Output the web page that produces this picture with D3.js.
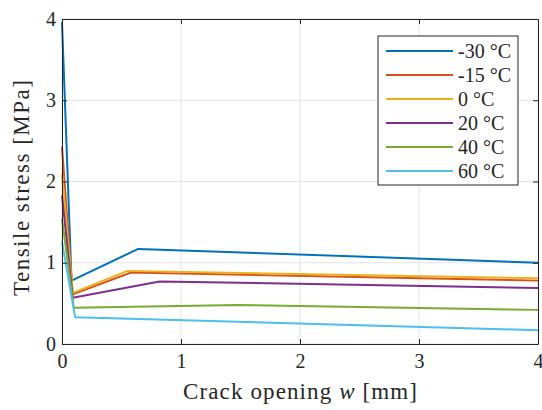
<!DOCTYPE html>
<html>
<head>
<meta charset="utf-8">
<script src="https://cdn.jsdelivr.net/npm/d3@7"></script>
<style>
  html, body { margin: 0; padding: 0; background: #fff; }
</style>
</head>
<body>
<svg id="chart" width="542" height="410"></svg>
<script>
// Softening curves: crack opening w [mm] vs tensile stress [MPa] per temperature
const temperatures = ["-30 °C", "-15 °C", "0 °C", "20 °C", "40 °C", "60 °C"];
const colors = ["#0072BD", "#D95319", "#EDB120", "#7E2F8E", "#77AC30", "#4DBEEE"];

const w_m30 = [0, 0.08, 0.64, 4];
const s_m30 = [3.96, 0.78, 1.17, 1.00];
const w_m15 = [0, 0.09, 0.58, 4];
const s_m15 = [2.43, 0.61, 0.88, 0.78];
const w_0 = [0, 0.09, 0.55, 4];
const s_0 = [2.09, 0.63, 0.90, 0.81];
const w_20 = [0, 0.09, 0.82, 4];
const s_20 = [1.83, 0.57, 0.77, 0.69];
const w_40 = [0, 0.10, 1.48, 4];
const s_40 = [1.54, 0.445, 0.48, 0.42];
const w_60 = [0, 0.11, 4];
const s_60 = [1.26, 0.33, 0.17];

const xTicks = [0, 1, 2, 3, 4];
const yTicks = [0, 1, 2, 3, 4];

const series = [
  [w_m30, s_m30], [w_m15, s_m15], [w_0, s_0],
  [w_20, s_20], [w_40, s_40], [w_60, s_60]
].map(([w, s], i) => ({
  name: temperatures[i],
  color: colors[i],
  points: w.map((d, j) => [d, s[j]])
}));

const FONT = '"Liberation Serif"';
const INK = "#262626";

const svg = d3.select("#chart");
const margin = { left: 62, top: 19, right: 4, bottom: 66 };
const W = 542, H = 410;
const x = d3.scaleLinear().domain([0, 4]).range([margin.left, W - margin.right]);
const y = d3.scaleLinear().domain([0, 4]).range([H - margin.bottom, margin.top]);

// grid
const grid = svg.append("g");
grid.selectAll("line.gx").data(xTicks).join("line")
  .attr("x1", d => x(d)).attr("x2", d => x(d))
  .attr("y1", y(0)).attr("y2", y(4))
  .attr("stroke", "#e3e3e3").attr("stroke-width", 1);
grid.selectAll("line.gy").data(yTicks).join("line")
  .attr("y1", d => y(d)).attr("y2", d => y(d))
  .attr("x1", x(0)).attr("x2", x(4))
  .attr("stroke", "#e3e3e3").attr("stroke-width", 1);

// data lines
const line = d3.line().x(d => x(d[0])).y(d => y(d[1]));
svg.append("g").selectAll("path").data(series).join("path")
  .attr("d", d => line(d.points))
  .attr("fill", "none")
  .attr("stroke", d => d.color)
  .attr("stroke-width", 2)
  .attr("stroke-linejoin", "round");

// axes with inward ticks on all four sides
const tickLen = 5;
const axBottom = svg.append("g").attr("transform", `translate(0,${y(0)})`)
  .call(d3.axisBottom(x).tickValues(xTicks).tickSizeInner(-tickLen).tickSizeOuter(0).tickPadding(10).tickFormat(d3.format("d")));
const axLeft = svg.append("g").attr("transform", `translate(${x(0)},0)`)
  .call(d3.axisLeft(y).tickValues(yTicks).tickSizeInner(-tickLen).tickSizeOuter(0).tickPadding(6).tickFormat(d3.format("d")));
const axTop = svg.append("g").attr("transform", `translate(0,${y(4)})`)
  .call(d3.axisTop(x).tickValues(xTicks).tickSizeInner(-tickLen).tickSizeOuter(0).tickFormat(""));
const axRight = svg.append("g").attr("transform", `translate(${x(4)},0)`)
  .call(d3.axisRight(y).tickValues(yTicks).tickSizeInner(-tickLen).tickSizeOuter(0).tickFormat(""));
[axBottom, axLeft, axTop, axRight].forEach(g => {
  g.attr("font-family", null).attr("font-size", null);
  g.select(".domain").attr("stroke", INK).attr("stroke-width", 1);
  g.selectAll(".tick line").attr("stroke", INK);
  g.selectAll("text").style("font-family", FONT).style("font-size", "20px").attr("fill", INK);
});
axLeft.selectAll("text").attr("dy", "0.30em");

// axis titles
const xt = svg.append("text")
  .attr("x", (x(0) + x(4)) / 2).attr("y", 399)
  .attr("text-anchor", "middle")
  .style("font-family", FONT).style("font-size", "23px").attr("fill", INK)
  .attr("textLength", 234).attr("lengthAdjust", "spacing");
xt.append("tspan").text("Crack opening ");
xt.append("tspan").style("font-style", "italic").text("w");
xt.append("tspan").text(" [mm]");

svg.append("text")
  .attr("transform", `translate(29,${188}) rotate(-90)`)
  .attr("text-anchor", "middle")
  .style("font-family", FONT).style("font-size", "23px").attr("fill", INK)
  .attr("textLength", 216).attr("lengthAdjust", "spacing")
  .text("Tensile stress [MPa]");

// legend
const lg = svg.append("g").attr("transform", "translate(378,36)");
lg.append("rect").attr("width", 140).attr("height", 149)
  .attr("fill", "#fff").attr("stroke", INK).attr("stroke-width", 1);
const items = lg.selectAll("g.item").data(series).join("g")
  .attr("transform", (d, i) => `translate(0,${15 + i * 24})`);
items.append("line").attr("x1", 8).attr("x2", 75)
  .attr("stroke", d => d.color).attr("stroke-width", 2);
items.append("text").attr("x", 80).attr("y", 7)
  .style("font-family", FONT).style("font-size", "20px").attr("fill", INK)
  .text(d => d.name);
</script>
</body>
</html>
